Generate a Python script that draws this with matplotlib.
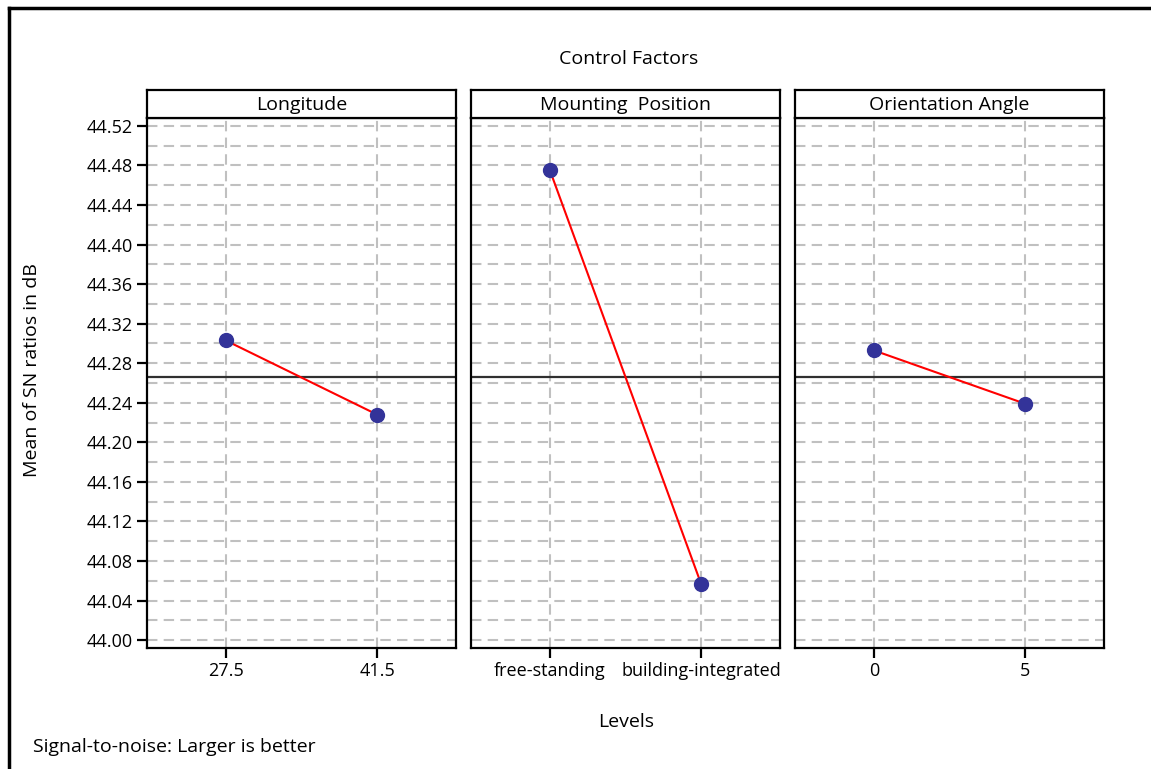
import numpy as np
import matplotlib
matplotlib.use("Agg")
import matplotlib.pyplot as plt
from matplotlib.lines import Line2D

plt.rcParams['font.family'] = ['Open Sans', 'DejaVu Sans']

# Datos
factores = ["Longitude", "Mounting  Position", "Orientation Angle"]
niveles = [["27.5", "41.5"],
           ["free-standing", "building-integrated"],
           ["0", "5"]]
sn_longitud = [44.303, 44.228]
sn_montaje = [44.4755, 44.0565]
sn_orientacion = [44.293, 44.239]
valores = [sn_longitud, sn_montaje, sn_orientacion]
media_global = np.mean(sn_longitud + sn_montaje + sn_orientacion)
yticks = np.round(np.arange(44.00, 44.521, 0.04), 2)
ygrid = np.round(np.arange(44.00, 44.521, 0.02), 2)

W, H = 1151, 769
fig = plt.figure(figsize=(W / 100, H / 100), dpi=100)

# Paneles (en píxeles)
izquierdas = [147, 471, 795]
ancho = 309
arriba, abajo, alto_cab = 118, 648, 28
fs_tick, fs_texto = 13, 14

for i, (nombre, etiquetas, vals) in enumerate(zip(factores, niveles, valores)):
    x0 = izquierdas[i]
    ax = fig.add_axes([x0 / W, 1 - abajo / H, ancho / W, (abajo - arriba) / H])
    cab = fig.add_axes([x0 / W, 1 - arriba / H, ancho / W, alto_cab / H])

    # Cabecera del panel
    cab.set_xticks([])
    cab.set_yticks([])
    for s in cab.spines.values():
        s.set_linewidth(1.6)
    cab.text(0.5, 0.45, nombre, ha='center', va='center', fontsize=fs_texto,
             transform=cab.transAxes)

    pos = np.arange(len(etiquetas))
    # Rejilla
    for g in ygrid:
        ax.axhline(g, color='#c0c0c0', lw=1.5, ls=(0, (5, 3)), zorder=0)
    for p in pos:
        ax.axvline(p, color='#c0c0c0', lw=1.5, ls=(0, (5, 3)), zorder=0)

    ax.axhline(media_global, color='#303030', lw=1.6, zorder=1)
    ax.plot(pos, vals, color='red', lw=1.5, zorder=2)
    ax.plot(pos, vals, 'o', color='#333399', ms=10, zorder=3)

    ax.set_xlim(-0.52, 1.52)
    ax.set_ylim(43.992, 44.528)
    ax.set_xticks(pos)
    ax.set_xticklabels(etiquetas, fontsize=fs_tick)
    ax.set_yticks(yticks)
    if i == 0:
        ax.set_yticklabels([f"{t:.2f}" for t in yticks], fontsize=fs_tick)
    else:
        ax.tick_params(axis='y', left=False, labelleft=False)
    ax.tick_params(axis='both', direction='out', length=7, width=1.6, pad=3)
    for s in ax.spines.values():
        s.set_linewidth(1.6)

# Textos generales
fig.text(629 / W, 1 - 59 / H, "Control Factors", ha='center', va='center', fontsize=fs_texto)
fig.text(626 / W, 1 - 722 / H, "Levels", ha='center', va='center', fontsize=fs_texto)
fig.text(32 / W, 1 - 370 / H, "Mean of SN ratios in dB", ha='center', va='center',
         rotation=90, fontsize=fs_texto)
fig.text(33 / W, 1 - 747 / H, "Signal-to-noise: Larger is better", ha='left',
         va='center', fontsize=fs_texto)

# Borde exterior (arriba e izquierda)
fig.add_artist(Line2D([9 / W, 1], [1 - 8 / H, 1 - 8 / H], color='black', lw=2.5,
                      transform=fig.transFigure))
fig.add_artist(Line2D([9 / W, 9 / W], [0, 1 - 8 / H], color='black', lw=2.5,
                      transform=fig.transFigure))

fig.savefig("out.png", dpi=100)
